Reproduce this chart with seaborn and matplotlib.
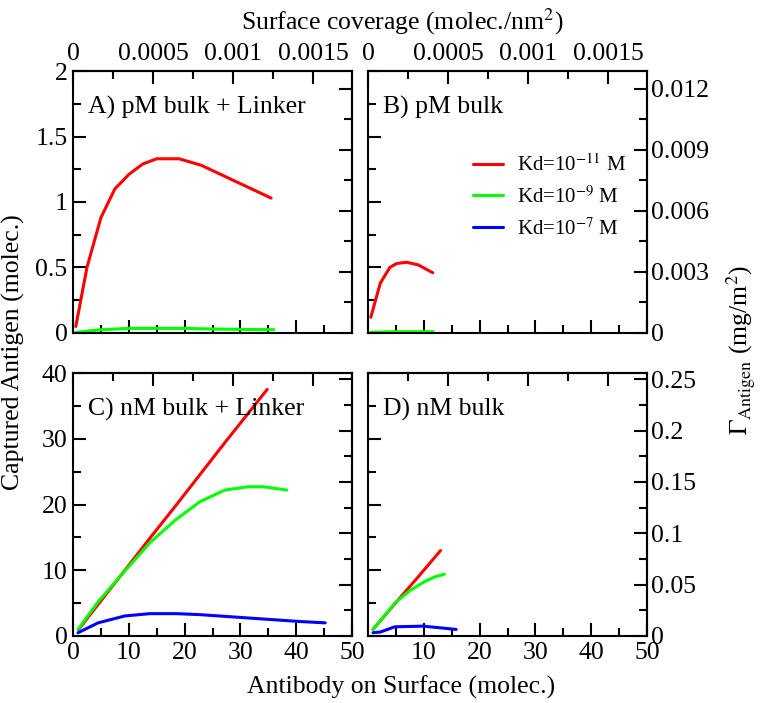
import matplotlib
matplotlib.use('Agg')
import matplotlib.pyplot as plt
from matplotlib.lines import Line2D
from matplotlib.ticker import FixedLocator, FuncFormatter, NullFormatter
import pandas as pd
import seaborn as sns

# antibody on surface (molec.) and captured antigen (molec.) per panel
a_red_x = [0.5, 2.5, 5, 7.5, 10, 12.5, 15, 19, 23, 27, 31, 35.5]
a_red_y = [0.05, 0.5, 0.88, 1.1, 1.21, 1.29, 1.33, 1.33, 1.28, 1.2, 1.12, 1.03]
a_green_x = [0.5, 5, 10, 15, 20, 25, 30, 36]
a_green_y = [0.005, 0.025, 0.035, 0.035, 0.035, 0.03, 0.028, 0.025]

b_red_x = [0.5, 2.2, 3.9, 5.1, 6.9, 9.0, 11.6]
b_red_y = [0.12, 0.38, 0.50, 0.53, 0.54, 0.52, 0.46]
b_green_x = [0.5, 4.5, 9, 11.7]
b_green_y = [0.005, 0.01, 0.01, 0.01]

c_red_x = [1.0, 4.5, 9.3, 13.8, 18.3, 22.8, 27.3, 31.8, 34.8]
c_red_y = [1.0, 4.8, 10.0, 14.9, 19.7, 24.6, 29.5, 34.3, 37.5]
c_green_x = [0.9, 4.5, 9.3, 13.8, 18.3, 22.7, 27.2, 31.4, 34.1, 38.3]
c_green_y = [1.0, 5.2, 9.9, 14.2, 17.6, 20.4, 22.2, 22.7, 22.7, 22.2]
c_blue_x = [0.9, 4.5, 9.3, 13.8, 18.5, 22.7, 28.7, 34.7, 40.7, 45.2]
c_blue_y = [0.5, 2.0, 3.05, 3.4, 3.4, 3.25, 2.9, 2.55, 2.2, 2.0]

d_red_x = [0.9, 4.5, 9.0, 13.0]
d_red_y = [1.0, 4.6, 9.0, 13.0]
d_green_x = [0.9, 4.8, 7.5, 10.2, 12.0, 13.7]
d_green_y = [1.0, 5.0, 6.9, 8.3, 9.0, 9.4]
d_blue_x = [0.9, 2.2, 4.8, 9.9, 15.8]
d_blue_y = [0.5, 0.6, 1.4, 1.5, 1.0]

kd_labels = ['Kd=10$^{-11}$ M', 'Kd=10$^{-9}$ M', 'Kd=10$^{-7}$ M']
kd_colors = ['#ff0000', '#00ff00', '#0000ff']
panel_titles = ['A) pM bulk + Linker', 'B) pM bulk', 'C) nM bulk + Linker', 'D) nM bulk']

# tick values
x_major = [0, 10, 20, 30, 40, 50]
x_minor = [5, 15, 25, 35, 45]
cov_major = [0, 0.0005, 0.001, 0.0015]
cov_minor = [0.00025, 0.00075, 0.00125]
pm_major = [0, 0.5, 1, 1.5, 2]
pm_minor = [0.25, 0.75, 1.25, 1.75]
nm_major = [0, 10, 20, 30, 40]
nm_minor = [5, 15, 25, 35]
mg_pm_major = [0, 0.003, 0.006, 0.009, 0.012]
mg_pm_minor = [0.0015, 0.0045, 0.0075, 0.0105]
mg_nm_major = [0, 0.05, 0.1, 0.15, 0.2, 0.25]
mg_nm_minor = [0.025, 0.075, 0.125, 0.175, 0.225]

cov_per_molec = 1 / 28700.0   # molec./nm^2 per molecule
mg_pm = 0.00644               # mg/m^2 per molecule (pM panels)
mg_nm = 0.0064                # mg/m^2 per molecule (nM panels)


def make_df(series):
    rows = []
    for lab, xs, ys in series:
        for x, y in zip(xs, ys):
            rows.append({'antibody': x, 'antigen': y, 'kd': lab})
    return pd.DataFrame(rows)


df_a = make_df([(kd_labels[0], a_red_x, a_red_y), (kd_labels[1], a_green_x, a_green_y)])
df_b = make_df([(kd_labels[0], b_red_x, b_red_y), (kd_labels[1], b_green_x, b_green_y)])
df_c = make_df([(kd_labels[0], c_red_x, c_red_y), (kd_labels[1], c_green_x, c_green_y),
                (kd_labels[2], c_blue_x, c_blue_y)])
df_d = make_df([(kd_labels[0], d_red_x, d_red_y), (kd_labels[1], d_green_x, d_green_y),
                (kd_labels[2], d_blue_x, d_blue_y)])

sns.set_theme(style='ticks', rc={'axes.edgecolor': 'black', 'xtick.color': 'black',
                                 'ytick.color': 'black', 'text.color': 'black',
                                 'axes.labelcolor': 'black'})
plt.rcParams['font.family'] = ['Liberation Serif', 'DejaVu Serif']
plt.rcParams['mathtext.fontset'] = 'stix'

FS = 18.5
W, H = 760, 703
fig = plt.figure(figsize=(W / 100, H / 100), dpi=100)


def px_axes(l, r, t, b):
    return fig.add_axes([l / W, 1 - b / H, (r - l) / W, (b - t) / H])


axA = px_axes(73, 352, 71, 333)
axB = px_axes(368, 647, 71, 333)
axC = px_axes(73, 352, 373, 636)
axD = px_axes(368, 647, 373, 636)

palette = dict(zip(kd_labels, kd_colors))
for ax, df in [(axA, df_a), (axB, df_b), (axC, df_c), (axD, df_d)]:
    sns.lineplot(data=df, x='antibody', y='antigen', hue='kd', hue_order=kd_labels,
                 palette=palette, estimator=None, sort=False, lw=2.2, legend=False, ax=ax)
    ax.set_xlabel('')
    ax.set_ylabel('')

fmt = FuncFormatter(lambda v, p: '%g' % round(v, 6))
fmt_no0 = FuncFormatter(lambda v, p: '' if abs(v) < 1e-9 else '%g' % round(v, 6))


def ticks(axis_obj, major, minor, formatter):
    axis_obj.set_major_locator(FixedLocator(major))
    axis_obj.set_minor_locator(FixedLocator(minor))
    axis_obj.set_major_formatter(formatter)


def tick_style(a, pad):
    a.tick_params(which='both', direction='in', width=1.5, labelsize=FS, pad=pad)
    a.tick_params(which='major', length=9.5)
    a.tick_params(which='minor', length=5.5)


def style(ax, ymax, ymaj, ymin, mg, rmaj, rmin, left, bottom, top, right, xf=fmt):
    ax.set_xlim(0, 50)
    ax.set_ylim(0, ymax)
    ticks(ax.xaxis, x_major, x_minor, xf if bottom else NullFormatter())
    ticks(ax.yaxis, ymaj, ymin, fmt if left else NullFormatter())
    for s in ax.spines.values():
        s.set_linewidth(1.5)
    tick_style(ax, 4)

    sx = ax.secondary_xaxis('top', functions=(lambda x: x * cov_per_molec,
                                               lambda c: c / cov_per_molec))
    ticks(sx.xaxis, cov_major, cov_minor, fmt if top else NullFormatter())
    tick_style(sx, 4)
    sx.spines['top'].set_linewidth(1.5)

    sy = ax.secondary_yaxis('right', functions=(lambda y: y * mg, lambda g: g / mg))
    ticks(sy.yaxis, rmaj, rmin, fmt if right else NullFormatter())
    tick_style(sy, 3)
    sy.spines['right'].set_linewidth(1.5)


style(axA, 2, pm_major, pm_minor, mg_pm, mg_pm_major, mg_pm_minor, True, False, True, False)
style(axB, 2, pm_major, pm_minor, mg_pm, mg_pm_major, mg_pm_minor, False, False, True, True)
style(axC, 40, nm_major, nm_minor, mg_nm, mg_nm_major, mg_nm_minor, True, True, False, False)
style(axD, 40, nm_major, nm_minor, mg_nm, mg_nm_major, mg_nm_minor, False, True, False, True,
      xf=fmt_no0)

for ax, t in zip([axA, axB, axC, axD], panel_titles):
    ax.text(0.055, 0.86, t, transform=ax.transAxes, fontsize=FS, va='center', ha='left')

handles = [Line2D([], [], color=c, lw=2.2) for c in kd_colors]
axB.legend(handles, kd_labels, loc='center left', bbox_to_anchor=(0.375, 0.52),
           frameon=False, fontsize=15, handlelength=1.45, handletextpad=0.7,
           labelspacing=0.5, borderpad=0, borderaxespad=0)

fig.text(402 / W, 1 - 22 / H, 'Surface coverage (molec./nm$^2$)', fontsize=FS,
         ha='center', va='center')
fig.text(401 / W, 1 - 687 / H, 'Antibody on Surface (molec.)', fontsize=FS,
         ha='center', va='center')
fig.text(13 / W, 1 - 352 / H, 'Captured Antigen (molec.)', fontsize=FS,
         ha='center', va='center', rotation=90)
fig.text(741 / W, 1 - 350 / H, r'$\Gamma_{\mathrm{Antigen}}$ (mg/m$^2$)', fontsize=FS,
         ha='center', va='center', rotation=90)

fig.savefig('out.png', dpi=100)
